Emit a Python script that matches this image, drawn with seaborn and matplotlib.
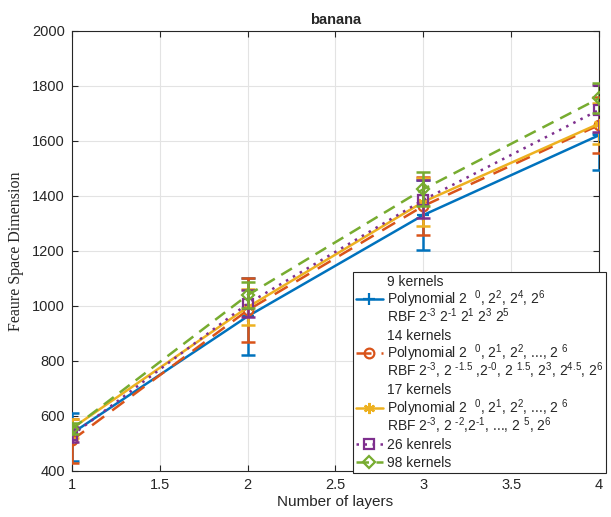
import types
import numpy as np
import pandas as pd
import matplotlib
matplotlib.use("Agg")
import matplotlib.pyplot as plt
from matplotlib.lines import Line2D
from matplotlib.legend_handler import HandlerLine2D
from matplotlib.offsetbox import TextArea
from matplotlib.transforms import Bbox
import seaborn as sns

# ---- data ----
layers = [1, 2, 3, 4]

k9_mean = [537, 962, 1330, 1620]
k9_lo = [436, 821, 1203, 1495]
k9_hi = [611, 1100, 1457, 1625]

k14_mean = [512, 984, 1363, 1657]
k14_lo = [429, 869, 1257, 1555]
k14_hi = [590, 1100, 1469, 1760]

k17_mean = [555, 995, 1378, 1662]
k17_lo = [520, 930, 1290, 1588]
k17_hi = [590, 1060, 1466, 1736]

k26_mean = [530, 1008, 1385, 1712]
k26_lo = [505, 960, 1319, 1633]
k26_hi = [560, 1057, 1457, 1802]

k98_mean = [553, 1039, 1424, 1754]
k98_lo = [535, 991, 1362, 1700]
k98_hi = [575, 1087, 1487, 1810]

M = r"\text{-}"
legend_labels = [
    "9 kernels",
    "Polynomial 2  $^{0}$, 2$^{2}$, 2$^{4}$, 2$^{6}$",
    f"RBF 2$^{{{M}3}}$ 2$^{{{M}1}}$ 2$^{{1}}$ 2$^{{3}}$ 2$^{{5}}$",
    "14 kernels",
    "Polynomial 2  $^{0}$, 2$^{1}$, 2$^{2}$, ..., 2 $^{6}$",
    f"RBF 2$^{{{M}3}}$, 2 $^{{{M}1.5}}$ ,2$^{{{M}0}}$, 2 $^{{1.5}}$, 2$^{{3}}$, 2$^{{4.5}}$, 2$^{{6}}$",
    "17 kernels",
    "Polynomial 2  $^{0}$, 2$^{1}$, 2$^{2}$, ..., 2 $^{6}$",
    f"RBF 2$^{{{M}3}}$, 2 $^{{{M}2}}$,2$^{{{M}1}}$, ..., 2 $^{{5}}$, 2$^{{6}}$",
    "26 kenrels",
    "98 kernels",
]

sns.set_theme(style="whitegrid")
plt.rcParams["font.family"] = ["Liberation Sans", "DejaVu Sans"]
plt.rcParams["mathtext.fontset"] = "custom"
plt.rcParams["mathtext.rm"] = "Liberation Sans"
plt.rcParams["mathtext.it"] = "Liberation Sans:italic"
plt.rcParams["mathtext.bf"] = "Liberation Sans:bold"
plt.rcParams["mathtext.fallback"] = "stixsans"

fig = plt.figure(figsize=(6.11, 5.17), dpi=100)
ax = fig.add_axes([0.1178, 0.089, 0.8625, 0.8516])
ax.set_facecolor("white")

series = [
    (k9_mean, k9_lo, k9_hi, "#0072BD", "-", "+", 9),
    (k14_mean, k14_lo, k14_hi, "#D95319", (0, (6, 4)), "o", 7),
    (k17_mean, k17_lo, k17_hi, "#EDB120", "-", (6, 2, 0), 8),
    (k26_mean, k26_lo, k26_hi, "#7E2F8E", (0, (1, 2.2)), "s", 6.5),
    (k98_mean, k98_lo, k98_hi, "#77AC30", (0, (5, 3)), "D", 6.5),
]

handles = []
for mean, lo, hi, c, ls, mk, ms in series:
    df = pd.DataFrame({"layers": layers, "dim": mean})
    sns.lineplot(data=df, x="layers", y="dim", ax=ax, color=c, linestyle=ls,
                 linewidth=1.8, marker=mk, markersize=ms,
                 markerfacecolor="none", markeredgecolor=c, markeredgewidth=1.6,
                 legend=False, zorder=3)
    m = np.array(mean)
    yerr = [m - np.array(lo), np.array(hi) - m]
    ax.errorbar(layers, mean, yerr=yerr, fmt="none", ecolor=c,
                elinewidth=1.8, capsize=5, capthick=1.8, zorder=3)
    handles.append(Line2D([], [], color=c, linestyle=ls, linewidth=1.8,
                          marker=mk, markersize=ms, markerfacecolor="none",
                          markeredgecolor=c, markeredgewidth=1.6))

blank = lambda: Line2D([], [], color="none")
leg_handles = [blank(), handles[0], blank(), blank(), handles[1], blank(),
               blank(), handles[2], blank(), handles[3], handles[4]]


class BaselineLineHandler(HandlerLine2D):
    """Place the legend line at a fixed height above the text baseline."""
    def create_artists(self, legend, orig_handle, xdescent, ydescent,
                       width, height, fontsize, trans):
        arts = super().create_artists(legend, orig_handle, xdescent, ydescent,
                                      width, height, fontsize, trans)
        for a in arts:
            y = np.asarray(a.get_ydata(), dtype=float)
            a.set_ydata(np.full_like(y, 0.36 * fontsize))
        return arts


ax.set_xlim(1, 4)
ax.set_ylim(400, 2000)
ax.set_xticks([1, 1.5, 2, 2.5, 3, 3.5, 4])
ax.set_xticklabels(["1", "1.5", "2", "2.5", "3", "3.5", "4"])
ax.set_yticks(range(400, 2001, 200))
ax.set_yticklabels([str(v) for v in range(400, 2001, 200)])
ax.tick_params(direction="in", length=4, width=0.8, color="#262626",
               labelsize=10.5, labelcolor="#262626", pad=5,
               top=True, right=True, bottom=True, left=True)
ax.grid(True, color="#e3e3e3", linewidth=0.8)
for s in ax.spines.values():
    s.set_color("#262626")
    s.set_linewidth(0.8)

ax.set_title("banana", fontsize=10.5, fontweight="bold", pad=5)
ax.set_xlabel("Number of layers", fontsize=11, color="#262626", labelpad=2)
ax.set_ylabel("Feaure Space Dimension", fontsize=11.5, color="#262626",
              family=["Liberation Serif", "DejaVu Serif"], labelpad=6)

leg = ax.legend(leg_handles, legend_labels, loc="upper left",
                bbox_to_anchor=(353 / 611, 1 - 272 / 517),
                bbox_transform=fig.transFigure, fontsize=10,
                frameon=True, fancybox=False, framealpha=1,
                edgecolor="#262626", handlelength=2.0, handletextpad=0.3,
                labelspacing=0.30, borderpad=0.18, borderaxespad=0,
                handler_map={Line2D: BaselineLineHandler()})
leg.get_frame().set_linewidth(0.8)
leg.set_zorder(10)


# give every legend text row the same (plain-text) height so that rows with
# superscripts are spaced evenly, as in the reference
def _uniform_bbox(self, renderer):
    bb = TextArea.get_bbox(self, renderer)
    _, h_, d_ = renderer.get_text_width_height_descent(
        "lp", self._text._fontproperties, ismath=False)
    return Bbox.from_bounds(0, -d_, bb.width, h_)


for ta in leg.findobj(TextArea):
    ta.get_bbox = types.MethodType(_uniform_bbox, ta)

fig.savefig("out.png", dpi=100)
